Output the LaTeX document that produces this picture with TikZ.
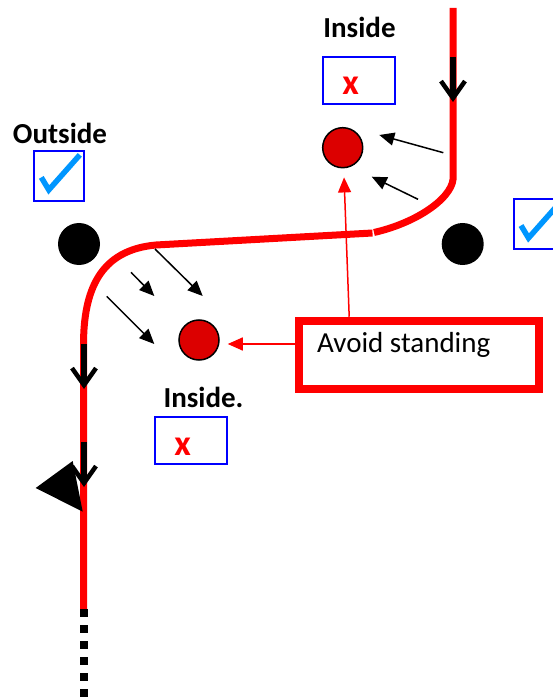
\documentclass[tikz,border=0pt]{standalone}
\usepackage{fontspec}
\setmainfont{Carlito}
\usetikzlibrary{arrows.meta}
\definecolor{routered}{RGB}{255,0,0}
\definecolor{spotred}{RGB}{220,0,0}
\definecolor{boxblue}{RGB}{0,0,255}
\definecolor{tickblue}{RGB}{0,150,255}
\tikzset{
  route/.style={draw=routered, line width=7pt},
  flow/.style={draw=black, line width=5.5pt, -{Straight Barb[length=17pt,width=24pt,line width=4.5pt]}},
  spot/.style={circle, draw=black, fill=spotred, line width=1.5pt, minimum size=40pt, inner sep=0pt},
  post/.style={circle, fill=black, minimum size=42pt, inner sep=0pt},
  markbox/.style={draw=boxblue, line width=2pt, minimum width=72pt, minimum height=47pt, inner sep=0pt},
  tickbox/.style={draw=boxblue, line width=2pt, minimum width=50pt, minimum height=50pt, inner sep=0pt},
  tick/.style={draw=tickblue, line width=5.5pt, line cap=butt, line join=miter},
  heading/.style={font=\fontsize{29}{31}\selectfont\bfseries, inner sep=0pt},
  cross/.style={text=routered, font=\fontsize{36}{36}\selectfont\bfseries, inner sep=0pt},
  warnbox/.style={draw=routered, line width=8pt, minimum width=240pt, minimum height=68.5pt, inner sep=0pt},
  warntext/.style={font=\fontsize{29}{31}\selectfont, inner sep=0pt, anchor=west},
  pointer/.style={draw=black, line width=1.5pt, -{Triangle[length=15pt,width=13pt]}},
  redpointer/.style={draw=routered, line width=1.5pt, -{Triangle[length=15pt,width=13pt]}},
}
\begin{document}
\begin{tikzpicture}[x=1pt,y=-1pt]
  \path[use as bounding box, clip] (0,0) rectangle (553,700);

  % walking route
  \coordinate (r0) at (453,8);
  \coordinate (r1) at (455,175);
  \coordinate (r2) at (374,232.5);
  \coordinate (r3) at (372.5,233);
  \coordinate (r4) at (156,245);
  \coordinate (r5) at (83.5,345);
  \coordinate (r6) at (83.5,609);
  \coordinate (r7) at (83.5,700);
  \draw[route] (r0) -- (453,175) .. controls (456,195) and (420,222) .. (r2);
  \draw[route] (r3) -- (r4) .. controls (100,250) and (83.5,290) .. (r5) -- (r6);
  \draw[black, line width=8pt, dash pattern=on 8pt off 8pt] (r6) -- (r7);

  % direction of travel
  \coordinate (f1a) at (453,57);   \coordinate (f1b) at (453,102);
  \coordinate (f2a) at (84,344);   \coordinate (f2b) at (84,389);
  \coordinate (f3a) at (84,442);   \coordinate (f3b) at (84,487);
  \draw[flow] (f1a) -- (f1b);
  \draw[flow] (f2a) -- (f2b);
  \draw[flow] (f3a) -- (f3b);
  \fill[black] (35.7,488) -- (72.7,461) -- (82.7,511.7) -- cycle;

  % posts and spots
  \node[post] (postL) at (79,244) {};
  \node[post] (postR) at (462.7,244) {};
  \node[spot] (spotT) at (342.7,147.7) {};
  \node[spot] (spotB) at (199,340) {};

  % labels with marks
  \node[heading] (inT) at (359.5,27) {Inside};
  \node[markbox] (boxT) at (359.2,80.5) {};
  \node[cross] (xT) at (350.7,86) {x};

  \node[heading] (outL) at (60,133) {Outside};
  \node[tickbox] (boxL) at (58.8,176.4) {};
  \draw[tick] ([shift={(8.5,27)}]boxL.north west) -- ++(7.5,12.5) -- ++(31,-35);

  \node[tickbox] (boxR) at (538.5,224.5) {};
  \draw[tick] ([shift={(8.5,27)}]boxR.north west) -- ++(7.5,12.5) -- ++(31,-35);

  \node[heading] (inB) at (203.5,397) {Inside.};
  \node[markbox] (boxB) at (191,440.5) {};
  \node[cross] (xB) at (182.7,446.7) {x};

  % warning box
  \node[warnbox] (warn) at (419.2,355) {};
  \node[warntext] (warnt) at (317,345) {Avoid standing};
  \draw[redpointer, shorten >=9pt] ([xshift=-70pt]warn.north) -- ([xshift=1pt]spotT.south);
  \coordinate (wl) at ([yshift=11pt]warn.west);
  \draw[redpointer, shorten >=8pt] (wl) -- (wl -| spotB.east);

  % hazard pointers
  \coordinate (p1a) at (443.3,152.7); \coordinate (p1b) at (379.3,135);
  \coordinate (p2a) at (418,199.3);   \coordinate (p2b) at (371.7,176.7);
  \coordinate (p3a) at (155,249);     \coordinate (p3b) at (202.7,296);
  \coordinate (p4a) at (131,272.3);   \coordinate (p4b) at (154.3,296);
  \coordinate (p5a) at (106.7,296.3); \coordinate (p5b) at (154.3,344);
  \draw[pointer] (p1a) -- (p1b);
  \draw[pointer] (p2a) -- (p2b);
  \draw[pointer] (p3a) -- (p3b);
  \draw[pointer] (p4a) -- (p4b);
  \draw[pointer] (p5a) -- (p5b);
\end{tikzpicture}
\end{document}
